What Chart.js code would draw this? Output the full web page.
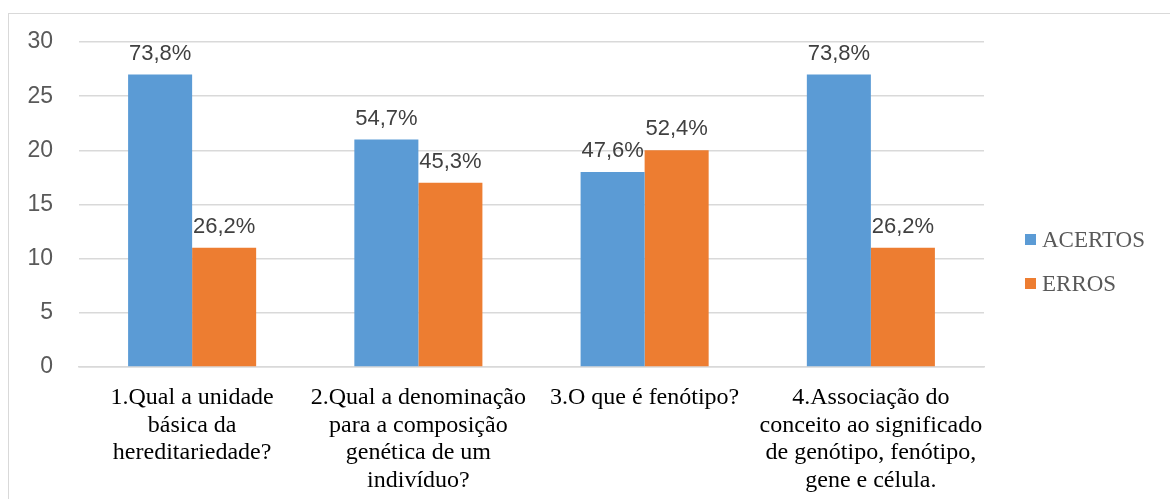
<!DOCTYPE html>
<html>
<head>
<meta charset="utf-8">
<script src="https://cdn.jsdelivr.net/npm/chart.js@4"></script>
<style>
  html, body { margin: 0; padding: 0; background: #fff; overflow: hidden; }
  #box {
    position: absolute; left: 8px; top: 13px;
    width: 1161px; height: 485px;
    border: 1px solid #d9d9d9;
  }
  #chart { display: block; }
</style>
</head>
<body>
<div id="box"><canvas id="chart" width="1161" height="485"></canvas></div>
<script>
// Datos del gráfico
const CATEGORIAS = [
    ['1.Qual a unidade', 'básica da', 'hereditariedade?'],
    ['2.Qual a denominação', 'para a composição', 'genética de um', 'indivíduo?'],
    ['3.O que é fenótipo?'],
    ['4.Associação do', 'conceito ao significado', 'de genótipo, fenótipo,', 'gene e célula.']
];
const ACERTOS = [27, 21, 18, 27];
const ERROS = [11, 17, 20, 11];
const PCT_ACERTOS = ['73,8%', '54,7%', '47,6%', '73,8%'];
const PCT_ERROS = ['26,2%', '45,3%', '52,4%', '26,2%'];
const Y_TICKS = [0, 5, 10, 15, 20, 25, 30];

// Etiquetas de porcentaje encima de cada barra
const etiquetasPlugin = {
    id: 'etiquetas',
    afterDatasetsDraw(chart) {
        const ctx = chart.ctx;
        ctx.save();
        ctx.font = '22px "Liberation Sans", Arial, sans-serif';
        ctx.fillStyle = '#404040';
        ctx.textAlign = 'center';
        ctx.textBaseline = 'alphabetic';
        chart.data.datasets.forEach((ds, i) => {
            const meta = chart.getDatasetMeta(i);
            meta.data.forEach((bar, j) => {
                ctx.fillText(ds.pct[j], bar.x, bar.y - 15);
            });
        });
        ctx.restore();
    }
};

// Leyenda a la derecha (cuadrado + texto)
const leyendaPlugin = {
    id: 'leyenda',
    afterDraw(chart) {
        const ctx = chart.ctx;
        const x = chart.chartArea.right + 41;
        const yMid = chart.height / 2 + 5;
        ctx.save();
        ctx.font = '23px "Liberation Serif", "Times New Roman", serif';
        ctx.textBaseline = 'middle';
        ctx.textAlign = 'left';
        chart.data.datasets.forEach((ds, i) => {
            const y = yMid + (i - 0.5) * 44;
            ctx.fillStyle = ds.backgroundColor;
            ctx.fillRect(x, y - 5.5, 11, 11);
            ctx.fillStyle = '#595959';
            ctx.fillText(ds.label, x + 17, y + 1);
        });
        ctx.restore();
    }
};

const ctx = document.getElementById('chart').getContext('2d');
new Chart(ctx, {
    type: 'bar',
    data: {
        labels: CATEGORIAS,
        datasets: [
            { label: 'ACERTOS', data: ACERTOS, pct: PCT_ACERTOS, backgroundColor: '#5B9BD5' },
            { label: 'ERROS', data: ERROS, pct: PCT_ERROS, backgroundColor: '#ED7D31' }
        ]
    },
    options: {
        responsive: false,
        animation: false,
        devicePixelRatio: 1,
        layout: { padding: { top: 28, right: 186, bottom: 0, left: 0 } },
        datasets: {
            bar: { categoryPercentage: 0.566, barPercentage: 1.0 }
        },
        plugins: {
            legend: { display: false },
            tooltip: { enabled: false }
        },
        scales: {
            y: {
                min: 0,
                max: 30,
                afterBuildTicks(scale) {
                    scale.ticks = Y_TICKS.map(v => ({ value: v }));
                },
                afterFit(scale) {
                    scale.width = 70;
                    scale.paddingTop = 14;
                    scale.paddingBottom = 14;
                },
                border: { display: false },
                grid: { color: '#d9d9d9', lineWidth: 1.5, drawTicks: false },
                ticks: {
                    padding: 26,
                    color: '#595959',
                    font: { family: '"Liberation Sans", Arial, sans-serif', size: 23 }
                }
            },
            x: {
                afterFit(scale) { scale.height = 132; },
                border: { display: true, color: '#d9d9d9', width: 1.5 },
                grid: { display: false, drawTicks: false },
                ticks: {
                    padding: 17,
                    color: '#000000',
                    maxRotation: 0,
                    autoSkip: false,
                    font: { family: '"Liberation Serif", "Times New Roman", serif', size: 24, lineHeight: 1.15 }
                }
            }
        }
    },
    plugins: [etiquetasPlugin, leyendaPlugin]
});
</script>
</body>
</html>
